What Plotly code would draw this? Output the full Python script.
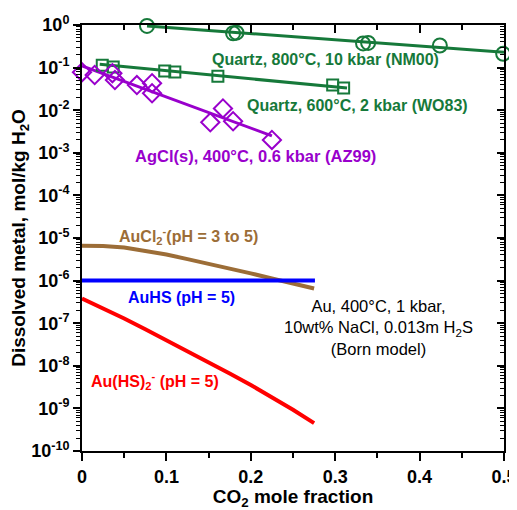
import plotly.graph_objects as go

# --- data ---
# Quartz solubility, 800 C, 10 kbar (NM00)
q800_x = [0.077, 0.179, 0.183, 0.333, 0.339, 0.424, 0.499]
q800_y = [0.95, 0.64, 0.66, 0.37, 0.38, 0.33, 0.21]
q800_fit_x = [0.077, 0.5]
q800_fit_y = [0.95, 0.23]

# Quartz solubility, 600 C, 2 kbar (WO83)
q600_x = [0.024, 0.037, 0.098, 0.110, 0.161, 0.297, 0.310]
q600_y = [0.114, 0.103, 0.083, 0.079, 0.063, 0.039, 0.033]
q600_fit_x = [0.021, 0.314]
q600_fit_y = [0.12, 0.033]

# AgCl(s), 400 C, 0.6 kbar (AZ99)
agcl_x = [0.0, 0.015, 0.036, 0.039, 0.065, 0.083, 0.083, 0.152, 0.167, 0.179, 0.225]
agcl_y = [0.078, 0.067, 0.074, 0.051, 0.039, 0.043, 0.025, 0.0052, 0.011, 0.0055, 0.002]
agcl_fit_x = [0.0, 0.225]
agcl_fit_y = [0.11, 0.0025]

# Au model curves (Born model)
au_x = [0, 0.025, 0.05, 0.075, 0.1, 0.125, 0.15, 0.175, 0.2, 0.225, 0.25, 0.275]
aucl2_y = [6.6e-6, 6.5e-6, 6.0e-6, 5.0e-6, 4.1e-6, 3.2e-6, 2.5e-6, 1.95e-6,
           1.48e-6, 1.12e-6, 8.5e-7, 6.5e-7]
auhs_x = [0, 0.276]
auhs_y = [1.0e-6, 1.0e-6]
auhs2_y = [3.8e-7, 2.24e-7, 1.29e-7, 7.2e-8, 4.0e-8, 2.19e-8, 1.2e-8, 6.6e-9,
           3.55e-9, 1.86e-9, 9.3e-10, 4.5e-10]

x_ticks = [0, 0.1, 0.2, 0.3, 0.4, 0.5]
x_ticktext = ["0", "0.1", "0.2", "0.3", "0.4", "0.5"]
y_exps = list(range(-10, 1))

GREEN = "#16793a"
PURPLE = "#9900cc"
BROWN = "#9c6d37"
BLUE = "#0000ff"
RED = "#ff0000"
FONT = "Liberation Sans, Arial, sans-serif"

y_ticks = [10.0 ** e for e in y_exps]
y_ticktext = [f"10<sup>{e}</sup>" for e in y_exps]
y_minor = [k * 10.0 ** e for e in y_exps[:-1] for k in range(2, 10)]

fig = go.Figure()

# fitted lines first, markers on top
for fx, fy, col in ((q800_fit_x, q800_fit_y, GREEN), (q600_fit_x, q600_fit_y, GREEN),
                    (agcl_fit_x, agcl_fit_y, PURPLE)):
    fig.add_trace(go.Scatter(x=fx, y=fy, mode="lines", line=dict(color=col, width=3),
                             showlegend=False, hoverinfo="skip"))

for px, py, sym, col, sz in ((q800_x, q800_y, "circle-open", GREEN, 14),
                             (q600_x, q600_y, "square-open", GREEN, 11),
                             (agcl_x, agcl_y, "diamond-open", PURPLE, 14)):
    fig.add_trace(go.Scatter(x=px, y=py, mode="markers", cliponaxis=False,
                             marker=dict(symbol=sym, size=sz, color=col,
                                         line=dict(color=col, width=2)),
                             showlegend=False))

fig.add_trace(go.Scatter(x=au_x, y=aucl2_y, mode="lines",
                         line=dict(color=BROWN, width=4), showlegend=False))
fig.add_trace(go.Scatter(x=auhs_x, y=auhs_y, mode="lines",
                         line=dict(color=BLUE, width=4), showlegend=False))
fig.add_trace(go.Scatter(x=au_x, y=auhs2_y, mode="lines",
                         line=dict(color=RED, width=4), showlegend=False))
# anchor for the mirrored top/right axes
fig.add_trace(go.Scatter(x=[None], y=[None], xaxis="x2", yaxis="y2", showlegend=False))

# curve labels (x in data units, y in log10 units)
labels = [
    ("Quartz, 800°C, 10 kbar (NM00)", 0.288, -0.82, GREEN, 16, "bold"),
    ("Quartz, 600°C, 2 kbar (WO83)", 0.326, -1.88, GREEN, 16, "bold"),
    ("AgCl(s), 400°C, 0.6 kbar (AZ99)", 0.206, -3.08, PURPLE, 16.5, "bold"),
    ("AuCl<sub>2</sub><sup>-</sup>(pH = 3 to 5)", 0.126, -4.96, BROWN, 16, "bold"),
    ("AuHS (pH = 5)", 0.118, -6.40, BLUE, 16, "bold"),
    ("Au(HS)<sub>2</sub><sup>-</sup> (pH = 5)", 0.086, -8.35, RED, 16, "bold"),
    ("Au, 400°C, 1 kbar,<br>10wt% NaCl, 0.013m H<sub>2</sub>S<br>(Born model)",
     0.351, -7.10, "black", 16.5, "normal"),
]
for text, ax, ay, col, fs, fw in labels:
    fig.add_annotation(x=ax, y=ay, xref="x", yref="y", text=text, showarrow=False,
                       font=dict(family=FONT, size=fs, color=col, weight=fw),
                       align="center")

tickfont = dict(family=FONT, size=18, color="black", weight="bold")
titlefont = dict(family=FONT, size=19, color="black", weight="bold")

# the page body adds an 8px offset, so the figure is 8px smaller than the window
fig.update_layout(
    width=509, height=502,
    margin=dict(l=74, r=13, t=17, b=59),
    plot_bgcolor="white", paper_bgcolor="white",
    xaxis=dict(range=[0, 0.5], tickmode="array", tickvals=x_ticks, ticktext=x_ticktext,
               ticks="outside", ticklen=8, tickwidth=2, tickcolor="black",
               minor=dict(dtick=0.05, ticks="outside", ticklen=5, tickwidth=2,
                          tickcolor="black"),
               showline=True, linewidth=2, linecolor="black", showgrid=False,
               zeroline=False, tickfont=tickfont, automargin=False,
               title=dict(text="CO<sub>2</sub> mole fraction", font=titlefont)),
    xaxis2=dict(range=[0, 0.5], overlaying="x", side="top", tickmode="array",
                tickvals=x_ticks, ticks="inside", ticklen=8, tickwidth=2,
                tickcolor="black", showticklabels=False, automargin=False,
                minor=dict(dtick=0.05, ticks="inside", ticklen=5, tickwidth=2,
                           tickcolor="black"),
                showline=True, linewidth=2, linecolor="black", showgrid=False,
                zeroline=False),
    yaxis=dict(type="log", range=[-10, 0], tickmode="array", tickvals=y_ticks,
               ticktext=y_ticktext, ticks="outside", ticklen=7, tickwidth=2,
               tickcolor="black", automargin=False,
               minor=dict(tickmode="array", tickvals=y_minor, ticks="outside",
                          ticklen=4, tickwidth=1, tickcolor="black"),
               showline=True, linewidth=2, linecolor="black", showgrid=False,
               zeroline=False, tickfont=tickfont,
               title=dict(text="Dissolved metal, mol/kg H<sub>2</sub>O", font=titlefont)),
    yaxis2=dict(type="log", range=[-10, 0], overlaying="y", side="right",
                tickmode="array", tickvals=y_ticks, ticks="inside", ticklen=7,
                tickwidth=2, tickcolor="black", showticklabels=False, automargin=False,
                minor=dict(tickmode="array", tickvals=y_minor, ticks="inside",
                           ticklen=4, tickwidth=1, tickcolor="black"),
                showline=True, linewidth=2, linecolor="black", showgrid=False,
                zeroline=False),
)

fig.write_html("out.html")
